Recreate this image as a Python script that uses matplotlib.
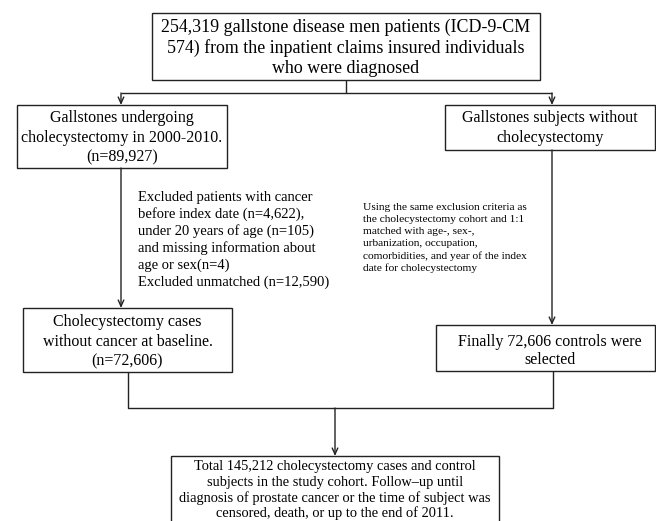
import matplotlib
matplotlib.use('Agg')
import matplotlib.pyplot as plt
from matplotlib.patches import Rectangle

plt.rcParams['font.family'] = ['Liberation Serif', 'DejaVu Serif']

# box texts
top_text = ['254,319 gallstone disease men patients (ICD-9-CM',
            '574) from the inpatient claims insured individuals',
            'who were diagnosed']
case_text = ['Gallstones undergoing', 'cholecystectomy in 2000-2010.', '(n=89,927)']
ctrl_text = ['Gallstones subjects without', 'cholecystectomy']
case_excl = ['Excluded patients with cancer',
             'before index date (n=4,622),',
             'under 20 years of age (n=105)',
             'and missing information about',
             'age or sex(n=4)',
             'Excluded unmatched (n=12,590)']
ctrl_excl = ['Using the same exclusion criteria as',
             'the cholecystectomy cohort and 1:1',
             'matched with age-, sex-,',
             'urbanization, occupation,',
             'comorbidities, and year of the index',
             'date for cholecystectomy']
case_final = ['Cholecystectomy cases', 'without cancer at baseline.', '(n=72,606)']
ctrl_final = ['Finally 72,606 controls were', 'selected']
total_text = ['Total 145,212 cholecystectomy cases and control',
              'subjects in the study cohort. Follow\u2013up until',
              'diagnosis of prostate cancer or the time of subject was',
              'censored, death, or up to the end of 2011.']

W, H = 656, 521
fig = plt.figure(figsize=(W / 100, H / 100), dpi=100)
ax = fig.add_axes([0, 0, 1, 1])
ax.set_xlim(0, W)
ax.set_ylim(H, 0)
ax.axis('off')

LW = 1.0
C = '#222222'


def box(x0, y0, x1, y1, lines, size=11.5, step=20, ty=None, tx=None):
    ax.add_patch(Rectangle((x0, y0), x1 - x0, y1 - y0, fill=False,
                           ec=C, lw=LW, clip_on=False))
    cy = (y0 + y1) / 2.0 if ty is None else ty
    cx = (x0 + x1) / 2.0 if tx is None else tx
    n = len(lines)
    for i, s in enumerate(lines):
        ax.text(cx, cy + (i - (n - 1) / 2.0) * step, s,
                ha='center', va='center', fontsize=size, color='black')


def line(xs, ys):
    ax.plot(xs, ys, color=C, lw=LW, solid_capstyle='butt')


def arrow(x, y0, y1):
    ax.annotate('', xy=(x, y1), xytext=(x, y0),
                arrowprops=dict(arrowstyle='->,head_length=0.45,head_width=0.2',
                                color=C, lw=LW, shrinkA=0, shrinkB=0))


def para(x, y0, lines, size, step):
    for i, s in enumerate(lines):
        ax.text(x, y0 + i * step, s, ha='left', va='center',
                fontsize=size, color='black')


box(152, 13, 540, 80, top_text, size=12.9, step=20.5, ty=48)
line([346, 346], [80, 93])
line([121, 552], [93, 93])
arrow(121, 93, 105)
arrow(552, 93, 105)

box(17, 105, 227, 168, case_text, step=19.5, ty=138)
box(445, 105, 655, 150, ctrl_text, step=20, ty=128)

arrow(121, 168, 308)
arrow(552, 150, 325)

para(138, 197, case_excl, 10.5, 17)
para(363, 207, ctrl_excl, 8.2, 12.2)

box(23, 308, 232, 372, case_final, step=19.5, ty=342)
box(436, 325, 655, 371, ctrl_final, step=18.5, ty=351, tx=550)

line([128, 128, 553, 553], [372, 408, 408, 371])
arrow(335, 408, 456)

box(171, 456, 499, 540, total_text, size=10.4, step=15.5, ty=490)

fig.savefig('out.png', dpi=100)
